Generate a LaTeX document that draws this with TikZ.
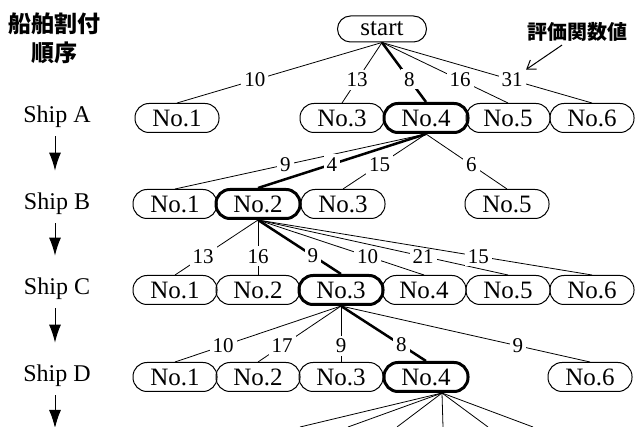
\documentclass[tikz,border=0pt]{standalone}
\usepackage{fontspec}
\setmainfont{Liberation Serif}
\newfontfamily\jpfont{Noto Sans CJK JP}
\usepackage{tikz}
\usetikzlibrary{arrows.meta}

\tikzset{
  box/.style={draw, rounded corners=14pt, minimum width=84pt, minimum height=29pt,
    inner sep=0pt, line width=1pt, font=\fontsize{25}{25}\selectfont},
  best/.style={box, line width=3pt},
  edge/.style={line width=0.8pt},
  bestedge/.style={line width=2.5pt},
  lbl/.style={fill=white, inner sep=3pt, font=\fontsize{21}{21}\selectfont},
  ship/.style={font=\fontsize{24}{24}\selectfont},
  down/.style={line width=1pt, -{Latex[length=18pt,width=12pt]}, shorten <=5pt, shorten >=19pt},
  pointer/.style={line width=1pt, -{Straight Barb[length=8pt,width=11pt]}}
}

\begin{document}
\begin{tikzpicture}[x=1pt, y=-1pt]
    			\clip (0,0) rectangle (635,427);
    			
    			\node[font=\jpfont\bfseries\fontsize{23}{29}\selectfont, align=center] (order) at (55,38) {船舶割付\\順序};
    			\node[font=\jpfont\bfseries\fontsize{20}{20}\selectfont] (hk) at (577,32) {評価関数値};
    			
    			\foreach \s/\y in {A/117, B/204, C/289, D/376}{
    				\node[ship] (ship\s) at (57,\y) {Ship \s};
    			}
    			\coordinate (shipE) at (55,428);
    			\draw[down] ([xshift=-2pt]shipA.south) -- ([xshift=-2pt]shipB.north);
    			\draw[down] ([xshift=-2pt]shipB.south) -- ([xshift=-2pt]shipC.north);
    			\draw[down] ([xshift=-2pt]shipC.south) -- ([xshift=-2pt]shipD.north);
    			\draw[down, shorten >=0pt] ([xshift=-2pt]shipD.south) -- (shipE);
    			
    			\node[box, minimum width=89pt, minimum height=26pt, rounded corners=13pt] (start) at (382,29) {start};
    			
    			\foreach \n/\x in {1/177, 3/342, 5/508, 6/592}
    				\node[box] (a\n) at (\x,118) {No.\n};
    			\node[best] (a4) at (426,118) {No.4};
    			
    			\foreach \n/\x in {1/175, 3/343, 5/507}
    				\node[box] (b\n) at (\x,204) {No.\n};
    			\node[best] (b2) at (258,204) {No.2};
    			
    			\foreach \n/\x in {1/175, 2/258, 4/424, 5/508, 6/592}
    				\node[box] (c\n) at (\x,290) {No.\n};
    			\node[best] (c3) at (341,290) {No.3};
    			
    			\foreach \n/\x in {1/175, 2/258, 3/341, 6/590}
    				\node[box] (d\n) at (\x,377) {No.\n};
    			\node[best] (d4) at (426,377) {No.4};
    			
    			\foreach \n/\v in {1/10, 3/13, 5/16, 6/31}
    				\draw[edge] (start.south) -- node[lbl, pos=0.62] (va\n) {\v} (a\n.north);
    			\draw[bestedge] (start.south) -- node[lbl, pos=0.62] (va4) {8} (a4.north);
    			\draw[pointer] ([xshift=-15pt]hk.south) -- (va6.north east);
    			
    			\foreach \n/\v in {1/9, 3/15, 5/6}
    				\draw[edge] (a4.south) -- node[lbl, pos=0.56] {\v} (b\n.north);
    			\draw[bestedge] (a4.south) -- node[lbl, pos=0.56] {4} (b2.north);
    			
    			\foreach \n/\v in {1/13, 2/16, 4/10, 5/21, 6/15}
    				\draw[edge] (b2.south) -- node[lbl, pos=0.66] {\v} (c\n.north);
    			\draw[bestedge] (b2.south) -- node[lbl, pos=0.66] {9} (c3.north);
    			
    			\foreach \n/\v in {1/10, 2/17, 3/9, 6/9}
    				\draw[edge] (c3.south) -- node[lbl, pos=0.71] {\v} (d\n.north);
    			\draw[bestedge] (c3.south) -- node[lbl, pos=0.71] {8} (d4.north);
    			
    			\foreach \n/\x in {1/300, 2/348, 3/397, 4/443, 5/488, 6/533}{
    				\coordinate (e\n) at (\x,427);
    				\draw[edge] ([xshift=16pt]d4.south) -- (e\n);
    			}
    		\end{tikzpicture}
\end{document}
